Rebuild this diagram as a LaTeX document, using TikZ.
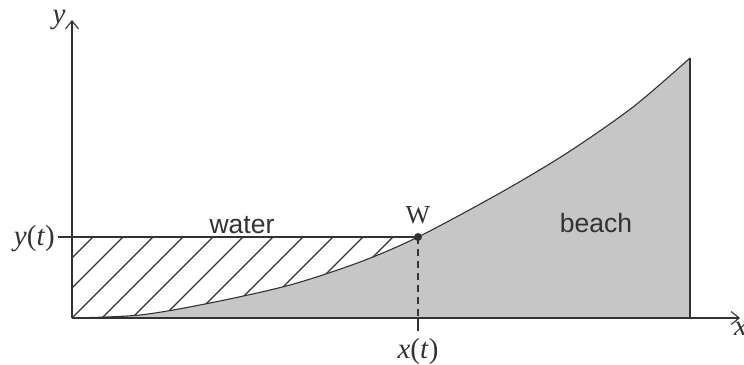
\documentclass[tikz,border=0pt]{standalone}
\usepackage{fontspec}
\setmainfont{Liberation Serif}
\newfontfamily\arialf{Liberation Sans}
\usetikzlibrary{arrows.meta}
\definecolor{ink}{RGB}{50,50,50}
\definecolor{sand}{RGB}{198,198,198}
\tikzset{
  axisline/.style={draw=ink, line width=1.1pt, -{Straight Barb[length=8pt,width=13pt,line width=1.1pt]}},
  edge/.style={draw=ink, line width=1.1pt},
  hatchline/.style={draw=ink, line width=1.1pt},
  dropline/.style={draw=ink, line width=1.1pt, dash pattern=on 7pt off 5pt},
  wordlabel/.style={font=\arialf\fontsize{26.5}{30}\selectfont, text=ink, inner sep=0pt},
  mathlabel/.style={font=\fontsize{29}{32}\selectfont, text=ink, inner sep=0pt}
}
\begin{document}
\begin{tikzpicture}[x=1pt,y=-1pt]
\useasboundingbox (0,0) rectangle (744,364);
\coordinate (O) at (72,318);
\coordinate (ytip) at (72,20);
\coordinate (xtip) at (740,318);
\coordinate (W) at (418,237);
\coordinate (yt) at (58,237);
\coordinate (top) at (690,58);
\coordinate (R) at (690,318);
\coordinate (Wx) at (418,318);
\coordinate (xt) at (418,331);

% hatching of the water
\begin{scope}
  \clip (72,237) rectangle (418,318);
  \foreach \k in {0,...,11} \draw[hatchline] ({93+30*\k},237) -- ++(-110,110);
\end{scope}

% beach
\fill[sand] plot[smooth] coordinates {(72,318) (140,315) (210,303) (290,285) (360,262) (418,237) (500,193) (567,153) (633,107) (690,58)} -- (R) -- cycle;
\draw[edge] plot[smooth] coordinates {(72,318) (140,315) (210,303) (290,285) (360,262) (418,237) (500,193) (567,153) (633,107) (690,58)};
\draw[edge] (top) -- (R);

% axes
\draw[axisline] (O) -- (ytip);
\draw[axisline] (O) -- (xtip);

% water level and W
\draw[edge] (yt) -- (W);
\draw[dropline] (W) -- (Wx);
\draw[edge] (Wx) -- (xt);
\fill[ink] (W) circle[radius=4pt];

% labels
\node[mathlabel] (ylab) at (59,20) {\textit{y}};
\node[mathlabel, anchor=west] (xlab) at (734,329) {\textit{x}};
\node[mathlabel, anchor=east] (ytlab) at (55,239) {\textit{y}(\textit{t})};
\node[mathlabel] (xtlab) at (418,352) {\textit{x}(\textit{t})};
\node[mathlabel, font=\fontsize{26}{30}\selectfont] (Wlab) at (418,215) {W};
\node[wordlabel, anchor=base] (water) at (242,233) {water};
\node[wordlabel, anchor=base] (beach) at (596,232) {beach};
\end{tikzpicture}
\end{document}
